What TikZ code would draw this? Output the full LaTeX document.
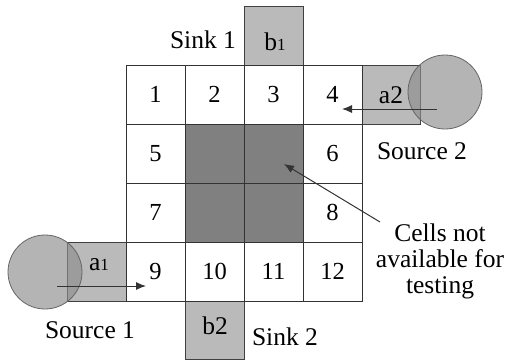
\documentclass[tikz,border=0pt]{standalone}
\usepackage{fontspec}
\setmainfont{Liberation Serif}
\newfontfamily\tms{Liberation Serif}
\usetikzlibrary{arrows.meta}
\begin{document}
\begin{tikzpicture}[x=1pt,y=-1pt,
  cell/.style={draw=black!80,line width=1pt,fill=white,minimum size=59pt,inner sep=0pt,font=\tms\fontsize{24.5}{26}\selectfont},
  dark/.style={cell,fill=black!50},
  port/.style={draw=black!75,line width=1pt,fill=black!27,minimum size=59pt,inner sep=0pt},
  src/.style={circle,draw=black!60,line width=0.8pt,fill=black!45,fill opacity=0.65,minimum size=74pt,inner sep=0pt},
  lbl/.style={font=\tms\fontsize{25.5}{27}\selectfont,inner sep=0pt},
  arr/.style={draw=black!80,line width=1pt,-{Latex[length=10pt,width=8pt]}}
]
\useasboundingbox (0,0) rectangle (507,362);
% ports behind grid
\node[port] (b1) at (273.5,35.5) {};
\node[port] (b2) at (214.5,329.5) {};
\node[port] (a1) at (96.5,271.5) {};
\node[port] (a2) at (390.5,94.5) {};
% grid
\node[cell] (c1) at (155.5,94.5) {1};
\node[cell] (c2) at (214.5,94.5) {2};
\node[cell] (c3) at (273.5,94.5) {3};
\node[cell] (c4) at (332.5,94.5) {4};
\node[cell] (c5) at (155.5,153.5) {5};
\node[dark] (d1) at (214.5,153.5) {};
\node[dark] (d2) at (273.5,153.5) {};
\node[cell] (c6) at (332.5,153.5) {6};
\node[cell] (c7) at (155.5,212.5) {7};
\node[dark] (d3) at (214.5,212.5) {};
\node[dark] (d4) at (273.5,212.5) {};
\node[cell] (c8) at (332.5,212.5) {8};
\node[cell] (c9) at (155.5,271.5) {9};
\node[cell] (c10) at (214.5,271.5) {10};
\node[cell] (c11) at (273.5,271.5) {11};
\node[cell] (c12) at (332.5,271.5) {12};
% port texts
\node[lbl] (tb1) at (275,42) {b{\fontsize{17}{17}\selectfont 1}};
\node[lbl] (tb2) at (215,326) {b2};
\node[lbl] (ta1) at (99,265) {a{\fontsize{17}{17}\selectfont 1}};
\node[lbl] (ta2) at (391,95) {a2};
% sources
\node[src] (s1) at (45,272) {};
\node[src] (s2) at (445,92) {};
% arrows
\coordinate (a1s) at (57,286);
\coordinate (a1e) at (146,286);
\draw[arr] (a1s) -- (a1e);
\coordinate (a2s) at (437,109);
\coordinate (a2e) at (342,109);
\draw[arr] (a2s) -- (a2e);
% labels
\node[lbl] (l1) at (203,40) {Sink 1};
\node[lbl] (l2) at (285,337) {Sink 2};
\node[lbl] (l3) at (90,330) {Source 1};
\node[lbl] (l4) at (422,151) {Source 2};
\node[lbl,align=center,font=\tms\fontsize{25.5}{26}\selectfont] (cells) at (440,261) {Cells not\\available for\\testing};
\coordinate (pt) at (284,164);
\coordinate (ps) at (380,222);
\draw[arr] (ps) -- (pt);
\end{tikzpicture}
\end{document}
